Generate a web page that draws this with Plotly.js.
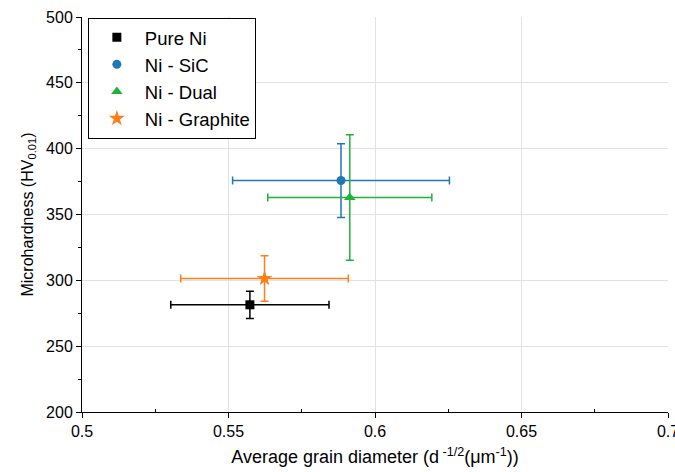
<!DOCTYPE html>
<html>
<head>
<meta charset="utf-8">
<script src="https://cdn.plot.ly/plotly-3.0.1.min.js"></script>
<style>html,body{margin:0;padding:0;background:#fff;}#chart{width:675px;height:472px;}</style>
</head>
<body>
<div id="chart"></div>
<script>
var names = ["Pure Ni", "Ni - SiC", "Ni - Dual", "Ni - Graphite"];
var grainSize = [0.5573, 0.5884, 0.5914, 0.5623];
var grainErr = [0.027, 0.037, 0.028, 0.0286];
var hardness = [281.4, 375.8, 362.9, 301.4];
var hardnessErr = [10.3, 28, 47.7, 17.2];
var xTicks = [0.5, 0.55, 0.6, 0.65, 0.7];
var xTickText = ["0.5", "0.55", "0.6", "0.65", "0.7"];
var yTicks = [200, 250, 300, 350, 400, 450, 500];
var colors = ["#000000", "#1f77b4", "#1fb33a", "#ff7f1a"];
var symbols = ["square", "circle", "triangle-up", "star"];
var sizes = [9, 9, 10, 12];

var traces = names.map(function(n, i) {
  return {
    type: "scatter", mode: "markers", name: n,
    x: [grainSize[i]], y: [hardness[i]],
    marker: {color: colors[i], symbol: symbols[i], size: sizes[i], line: {width: 0}},
    error_x: {type: "data", array: [grainErr[i]], color: colors[i], thickness: 1.5, width: 4},
    error_y: {type: "data", array: [hardnessErr[i]], color: colors[i], thickness: 1.5, width: 4}
  };
});

var font = {family: "Liberation Sans, Arial, sans-serif", color: "#000", size: 15};
var layout = {
  width: 675, height: 472,
  margin: {l: 82, r: 7, t: 17, b: 60},
  paper_bgcolor: "#fff", plot_bgcolor: "#fff",
  font: font,
  showlegend: true,
  legend: {
    x: 0.01, y: 0.998, xanchor: "left", yanchor: "top",
    bordercolor: "#000", borderwidth: 1, bgcolor: "#fff",
    font: {family: "Liberation Sans, Arial, sans-serif", size: 18.5, color: "#000"},
    traceorder: "normal", itemwidth: 46
  },
  xaxis: {
    range: [0.5, 0.7], tickvals: xTicks, ticktext: xTickText,
    ticklabeloverflow: "allow",
    showline: true, linecolor: "#000", linewidth: 1,
    ticks: "outside", ticklen: 5, tickcolor: "#000",
    minor: {tickvals: [0.525, 0.575, 0.625, 0.675], ticks: "inside", ticklen: 3, tickcolor: "#000", showgrid: false},
    showgrid: true, gridcolor: "#dfe3e6", gridwidth: 1,
    zeroline: false, tickfont: {size: 16},
    title: {text: "Average grain diameter (d<sup> -1/2</sup>(μm<sup>-1</sup>))", font: {size: 18}, standoff: 11}
  },
  yaxis: {
    range: [200, 500], tickvals: yTicks,
    showline: true, linecolor: "#000", linewidth: 1,
    ticks: "outside", ticklen: 5, tickcolor: "#000",
    minor: {tickvals: [225, 275, 325, 375, 425, 475], ticks: "outside", ticklen: 3, tickcolor: "#000", showgrid: false},
    showgrid: true, gridcolor: "#dfe3e6", gridwidth: 1,
    zeroline: false, tickfont: {size: 16},
    title: {text: "Microhardness (HV<sub>0.01</sub>)", font: {size: 16}, standoff: 8}
  }
};
Plotly.newPlot("chart", traces, layout, {displayModeBar: false, staticPlot: true});
</script>
</body>
</html>
